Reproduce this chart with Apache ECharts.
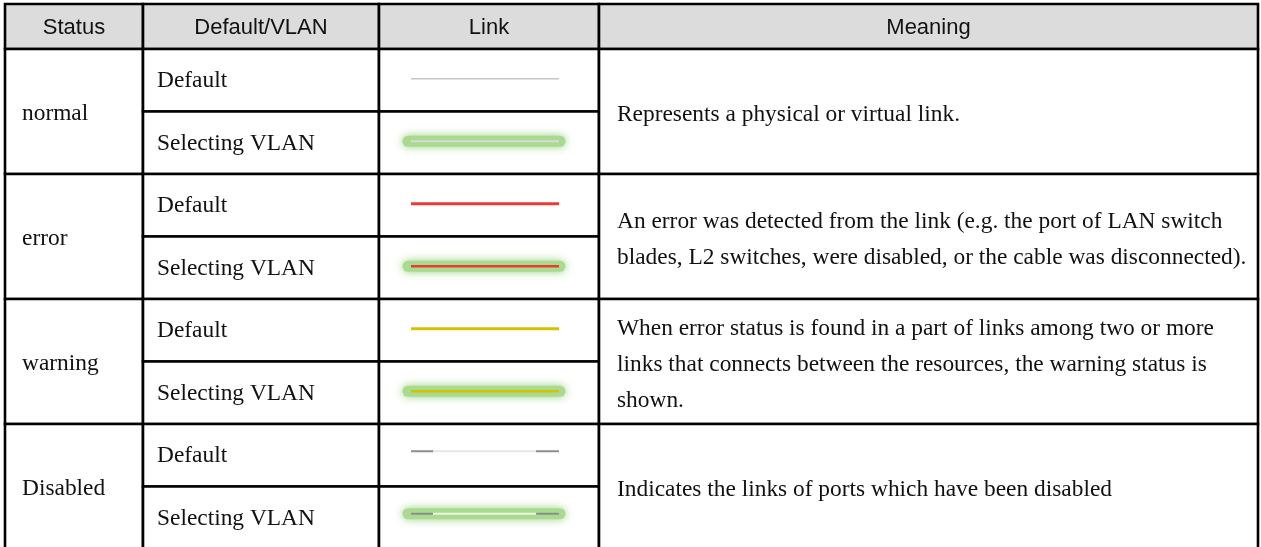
<!DOCTYPE html>
<html><head><meta charset="utf-8">
<script src="https://cdn.jsdelivr.net/npm/echarts@6/dist/echarts.min.js"></script>
<style>html,body{margin:0;padding:0;background:#fff}#c{width:1261px;height:547px}</style>
</head><body><div id="c"></div>
<script>
// ---- data ----
const headers = ['Status', 'Default/VLAN', 'Link', 'Meaning'];
const statuses = ['normal', 'error', 'warning', 'Disabled'];
const variants = ['Default', 'Selecting VLAN'];
const linkKinds = ['solid', 'solid', 'solid', 'disabled'];
const meanings = [
  ['Represents a physical or virtual link.'],
  ['An error was detected from the link (e.g. the port of LAN switch',
   'blades, L2 switches, were disabled, or the cable was disconnected).'],
  ['When error status is found in a part of links among two or more',
   'links that connects between the resources, the warning status is',
   'shown.'],
  ['Indicates the links of ports which have been disabled']
];

// ---- layout & style ----
const colEdges = [5, 143, 379, 599, 1258];
const headTop = 4, headBottom = 49, rowH = 62.5;
const linkColors = ['#c6c6c6', '#ee3a35', '#d5c100', '#8c8c8c'];
const linkWidths = [1.6, 3, 3, 2];
const glowColor = '#a8d98e';
const bodyFont = '23.4px "Liberation Serif", "Times New Roman", serif';
const headFont = '22px "Liberation Sans", Arial, sans-serif';
const rowTop = r => headBottom + r * rowH;

function cellRect(api, x0, y0, x1, y1, fill) {
  const p0 = api.coord([x0, y0]), p1 = api.coord([x1, y1]);
  return {type: 'rect', shape: {x: p0[0], y: p0[1], width: p1[0] - p0[0], height: p1[1] - p0[1]},
    style: {fill: fill, stroke: '#000', lineWidth: 2.6}};
}
function txt(api, x, y, text, font, align, lh) {
  const p = api.coord([x, y]);
  return {type: 'text', style: {x: p[0], y: p[1], text: text, font: font, fill: '#111',
    align: align, verticalAlign: 'middle', lineHeight: lh || 30}};
}
function seg(api, x0, x1, y, color, w, cap, extra) {
  const a = api.coord([x0, y]), b = api.coord([x1, y]);
  return {type: 'line', shape: {x1: a[0], y1: a[1], x2: b[0], y2: b[1]},
    style: Object.assign({stroke: color, lineWidth: w, lineCap: cap || 'butt'}, extra || {})};
}

const headerSeries = {
  type: 'custom', coordinateSystem: 'cartesian2d', clip: false, z: 2,
  data: headers.map((h, i) => [i]),
  renderItem: (params, api) => {
    const i = api.value(0);
    const x0 = colEdges[i], x1 = colEdges[i + 1];
    return {type: 'group', children: [
      cellRect(api, x0, headTop, x1, headBottom, '#dcdcdc'),
      txt(api, (x0 + x1) / 2, (headTop + headBottom) / 2 + 1, headers[i], headFont, 'center')
    ]};
  }
};
const statusSeries = {
  type: 'custom', coordinateSystem: 'cartesian2d', clip: false, z: 2,
  data: statuses.map((s, i) => [i]),
  renderItem: (params, api) => {
    const g = api.value(0);
    const y0 = rowTop(2 * g), y1 = rowTop(2 * g + 2);
    return {type: 'group', children: [
      cellRect(api, colEdges[0], y0, colEdges[1], y1, '#fff'),
      txt(api, colEdges[0] + 17, (y0 + y1) / 2 + 2, statuses[g], bodyFont, 'left')
    ]};
  }
};
const variantData = [];
statuses.forEach((s, g) => variants.forEach((v, k) => variantData.push([g, k])));
const variantSeries = {
  type: 'custom', coordinateSystem: 'cartesian2d', clip: false, z: 2,
  data: variantData,
  renderItem: (params, api) => {
    const g = api.value(0), k = api.value(1), r = 2 * g + k;
    const y0 = rowTop(r), y1 = rowTop(r + 1);
    return {type: 'group', children: [
      cellRect(api, colEdges[1], y0, colEdges[2], y1, '#fff'),
      txt(api, colEdges[1] + 14, (y0 + y1) / 2 + 1, variants[k], bodyFont, 'left')
    ]};
  }
};
const linkSeries = {
  type: 'custom', coordinateSystem: 'cartesian2d', clip: false, z: 2,
  data: variantData,
  renderItem: (params, api) => {
    const g = api.value(0), k = api.value(1), r = 2 * g + k;
    const y0 = rowTop(r), y1 = rowTop(r + 1);
    const yc = (y0 + y1) / 2 - 1.5 - (g === 3 ? 2.5 : 0);
    const children = [cellRect(api, colEdges[2], y0, colEdges[3], y1, '#fff')];
    const xa = 411, xb = 559;
    if (k === 1) {
      children.push(seg(api, xa - 3, xb + 1, yc, glowColor, 11, 'round',
        {shadowBlur: 8, shadowColor: 'rgba(140,205,110,0.95)', opacity: 0.95}));
    }
    const col = linkColors[g];
    if (linkKinds[g] === 'disabled') {
      children.push(seg(api, xa + 21, xb - 22, yc, k === 1 ? '#eef3e2' : '#e6e6e6', 2));
      children.push(seg(api, xa, xa + 22, yc, col, 2));
      children.push(seg(api, xb - 23, xb, yc, col, 2));
    } else {
      const c = (g === 0 && k === 1) ? '#d9d9d9' : col;
      children.push(seg(api, xa, xb, yc, c, k === 1 ? Math.max(2, linkWidths[g] - 0.5) : linkWidths[g]));
    }
    return {type: 'group', children: children};
  }
};
const meaningSeries = {
  type: 'custom', coordinateSystem: 'cartesian2d', clip: false, z: 2,
  data: meanings.map((m, i) => [i]),
  renderItem: (params, api) => {
    const g = api.value(0);
    const y0 = rowTop(2 * g), y1 = rowTop(2 * g + 2);
    return {type: 'group', children: [
      cellRect(api, colEdges[3], y0, colEdges[4], y1, '#fff'),
      txt(api, colEdges[3] + 18, (y0 + y1) / 2 + 3, meanings[g].join('\n'), bodyFont, 'left', 36)
    ]};
  }
};

const chart = echarts.init(document.getElementById('c'), null, {renderer: 'canvas'});
chart.setOption({
  animation: false,
  backgroundColor: '#fff',
  grid: {left: 0, right: 0, top: 0, bottom: 0},
  xAxis: {type: 'value', min: 0, max: 1261, show: false},
  yAxis: {type: 'value', min: 0, max: 547, inverse: true, show: false},
  series: [headerSeries, statusSeries, variantSeries, linkSeries, meaningSeries]
});
</script></body></html>
